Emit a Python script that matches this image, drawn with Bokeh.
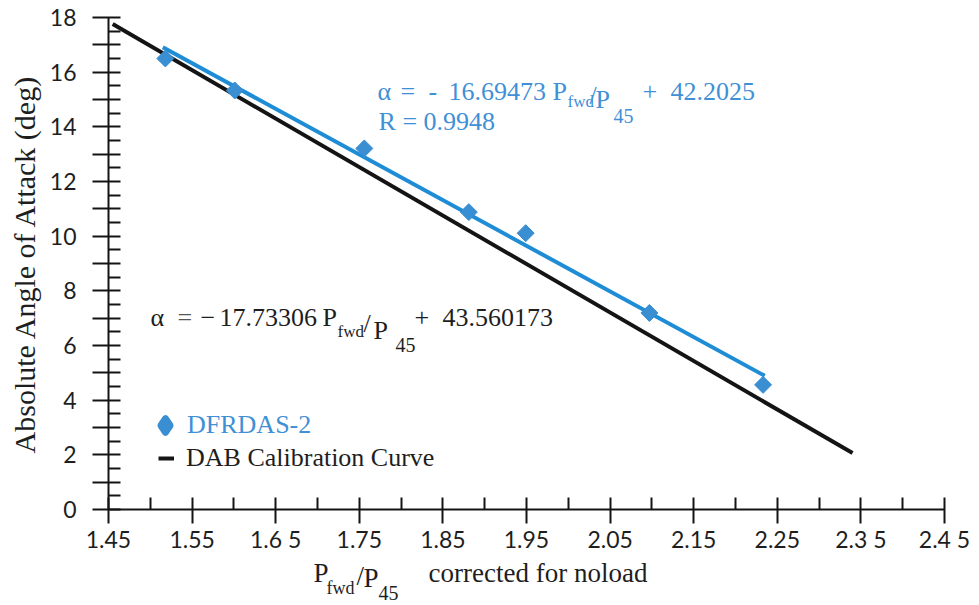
from bokeh.plotting import figure
from bokeh.layouts import column
from bokeh.models import FixedTicker, Label, Legend, LegendItem, Range1d
from bokeh.embed import file_html
from bokeh.resources import INLINE
import numpy as np

# DFRDAS-2 measurements: pressure ratio vs. absolute angle of attack
pressure_ratio = [1.518, 1.601, 1.756, 1.881, 1.949, 2.097, 2.233]
angle_deg = [16.50, 15.33, 13.21, 10.88, 10.11, 7.19, 4.56]

# linear fit through the DFRDAS-2 points
fit_slope = -16.69473
fit_intercept = 42.2025
fit_r = 0.9948
fit_x_span = [1.515, 2.235]

# DAB calibration curve
cal_slope = -17.73306
cal_intercept = 43.560173
cal_x_span = [1.455, 2.34]

# axis ticks
x_tick_values = [1.45, 1.55, 1.65, 1.75, 1.85, 1.95, 2.05, 2.15, 2.25, 2.35, 2.45]
x_tick_labels = ["1.45", "1.55", "1.6 5", "1.75", "1.85", "1.95", "2.05", "2.15",
                 "2.25", "2.3 5", "2.4 5"]
x_minor_values = [1.50, 1.60, 1.70, 1.80, 1.90, 2.00, 2.10, 2.20, 2.30, 2.40]
y_tick_values = list(range(0, 19))
y_minor_values = [v + 0.5 for v in range(0, 18)]

BLUE_LINE = "#1f8dd6"
BLUE_MARK = "#3a8ed2"
BLUE_TEXT = "#3f90d6"
BLACK = "#141414"
TEXT_DARK = "#1e1e1e"
SANS = "Lato"
SERIF = "Liberation Serif"
SERIF_MID = 0.3375                # em-box middle above the baseline for the serif face

PAGE_W, PAGE_H = 979, 605
TITLE_H = 50                      # strip under the chart holding the x title
FRAME_LEFT, FRAME_BOTTOM = 108, 510

p = figure(width=PAGE_W, height=PAGE_H - TITLE_H, output_backend="svg",
           toolbar_location=None,
           x_range=Range1d(1.45, 2.45), y_range=Range1d(0, 18),
           min_border_left=FRAME_LEFT, min_border_right=35,
           min_border_top=17, min_border_bottom=PAGE_H - TITLE_H - FRAME_BOTTOM)
p.grid.visible = False
p.outline_line_color = None

# x axis
xa = p.xaxis[0]
xa.ticker = FixedTicker(ticks=x_tick_values, minor_ticks=x_minor_values)
xa.major_label_overrides = dict(zip(x_tick_values, x_tick_labels))
xa.major_tick_in, xa.major_tick_out = 12, 14
xa.minor_tick_in, xa.minor_tick_out = 12, 0
xa.major_label_standoff = 1

# y axis: every integer ticked, every second one labelled
ya = p.yaxis[0]
ya.ticker = FixedTicker(ticks=y_tick_values, minor_ticks=y_minor_values)
ya.major_label_overrides = {v: (str(v) if v % 2 == 0 else "") for v in y_tick_values}
ya.major_tick_in, ya.major_tick_out = 12, 16
ya.minor_tick_in, ya.minor_tick_out = 12, 0
ya.major_label_standoff = 16
ya.axis_label = "Absolute Angle of Attack (deg)"
ya.axis_label_text_font = SERIF
ya.axis_label_text_font_style = "normal"
ya.axis_label_text_font_size = "30px"
ya.axis_label_text_color = TEXT_DARK
ya.axis_label_standoff = 6

for ax in (xa, ya):
    ax.axis_line_color = BLACK
    ax.axis_line_width = 2
    ax.major_tick_line_color = BLACK
    ax.major_tick_line_width = 2
    ax.minor_tick_line_color = BLACK
    ax.minor_tick_line_width = 2
    ax.major_label_text_font = SANS
    ax.major_label_text_font_size = "23px"
    ax.major_label_text_color = TEXT_DARK

# curves
cal_y = [cal_slope * x + cal_intercept for x in cal_x_span]
fit_y = [fit_slope * x + fit_intercept for x in fit_x_span]
r_cal = p.line(cal_x_span, cal_y, line_color=BLACK, line_width=4)
r_fit = p.line(fit_x_span, fit_y, line_color=BLUE_LINE, line_width=4)
r_pts = p.scatter(pressure_ratio, angle_deg, marker="square", angle=np.pi / 4,
                  size=12, fill_color=BLUE_MARK, line_color=BLUE_MARK)
# legend swatch for the points: a broad diamond with no visible position
r_key = p.scatter(x=np.array([np.nan]), y=np.array([np.nan]), marker="diamond",
                  fill_color=BLUE_MARK, line_color=BLUE_MARK, line_width=7,
                  line_join="round")

# legends (separate so each label keeps its own colour)
common = dict(padding=0, margin=0, spacing=0, border_line_alpha=0,
              background_fill_alpha=0, label_text_font=SERIF,
              label_text_font_size="26px")
leg_pts = Legend(items=[LegendItem(label="DFRDAS-2", renderers=[r_key])],
                 location=(40, 67), glyph_width=34, glyph_height=34,
                 label_standoff=5, label_text_color=BLUE_TEXT, **common)
leg_cal = Legend(items=[LegendItem(label="DAB Calibration Curve", renderers=[r_cal])],
                 location=(50, 36), glyph_width=16, glyph_height=30,
                 label_standoff=12, label_text_color=TEXT_DARK, **common)
p.add_layout(leg_pts)
p.add_layout(leg_cal)


def put(fig, text, cx, baseline, size, color):
    """Place a text run by its left edge and baseline, in page pixels."""
    bottom = FRAME_BOTTOM if fig is p else PAGE_H
    cy = baseline - SERIF_MID * size
    fig.add_layout(Label(x=cx - FRAME_LEFT, y=bottom - cy,
                         x_units="screen", y_units="screen", text=text,
                         text_font=SERIF, text_font_size=f"{size}px",
                         text_color=color, text_align="left",
                         text_baseline="middle"))


# fitted-line equation
put(p, "\u03b1", 377, 101, 26, BLUE_TEXT)
put(p, "=", 400, 101, 26, BLUE_TEXT)
put(p, "-", 428, 101, 26, BLUE_TEXT)
put(p, f"{abs(fit_slope):.5f}", 448, 101, 26, BLUE_TEXT)
put(p, "P", 552, 101, 26, BLUE_TEXT)
put(p, "fwd", 567, 108, 17, BLUE_TEXT)
put(p, "/", 589, 105, 26, BLUE_TEXT)
put(p, "P", 595, 109, 26, BLUE_TEXT)
put(p, "45", 613, 123, 20, BLUE_TEXT)
put(p, "+", 642, 101, 26, BLUE_TEXT)
put(p, f"{fit_intercept:.4f}", 670, 101, 26, BLUE_TEXT)
put(p, "R", 378, 131, 26, BLUE_TEXT)
put(p, "=", 402, 131, 26, BLUE_TEXT)
put(p, f"{fit_r:.4f}", 423, 131, 26, BLUE_TEXT)

# calibration equation
put(p, "\u03b1", 150, 327, 26, TEXT_DARK)
put(p, "=", 177, 327, 26, "#555555")
put(p, "\u2212", 200, 327, 26, TEXT_DARK)
put(p, f"{abs(cal_slope):.5f}", 219, 327, 26, TEXT_DARK)
put(p, "P", 322, 327, 26, TEXT_DARK)
put(p, "fwd", 337, 338, 17, TEXT_DARK)
put(p, "/", 363, 333, 26, TEXT_DARK)
put(p, "P", 373, 340, 26, TEXT_DARK)
put(p, "45", 395, 352, 20, TEXT_DARK)
put(p, "+", 414, 327, 26, TEXT_DARK)
put(p, f"{cal_intercept:.6f}", 442, 327, 26, TEXT_DARK)

# x-axis title, in its own strip under the chart
t = figure(width=PAGE_W, height=TITLE_H, output_backend="svg", toolbar_location=None,
           x_range=Range1d(0, PAGE_W), y_range=Range1d(0, TITLE_H),
           min_border=0, x_axis_type=None, y_axis_type=None)
t.grid.visible = False
t.outline_line_color = None
put(t, "P", 313, 582, 27, TEXT_DARK)
put(t, "fwd", 326, 594, 18, TEXT_DARK)
put(t, "/", 356, 585, 27, TEXT_DARK)
put(t, "P", 363, 587, 27, TEXT_DARK)
put(t, "45", 378, 599, 20, TEXT_DARK)
put(t, "corrected for noload", 428, 582, 27, TEXT_DARK)

page = column(p, t, spacing=0)
open("out.html", "w").write(file_html(page, INLINE))
